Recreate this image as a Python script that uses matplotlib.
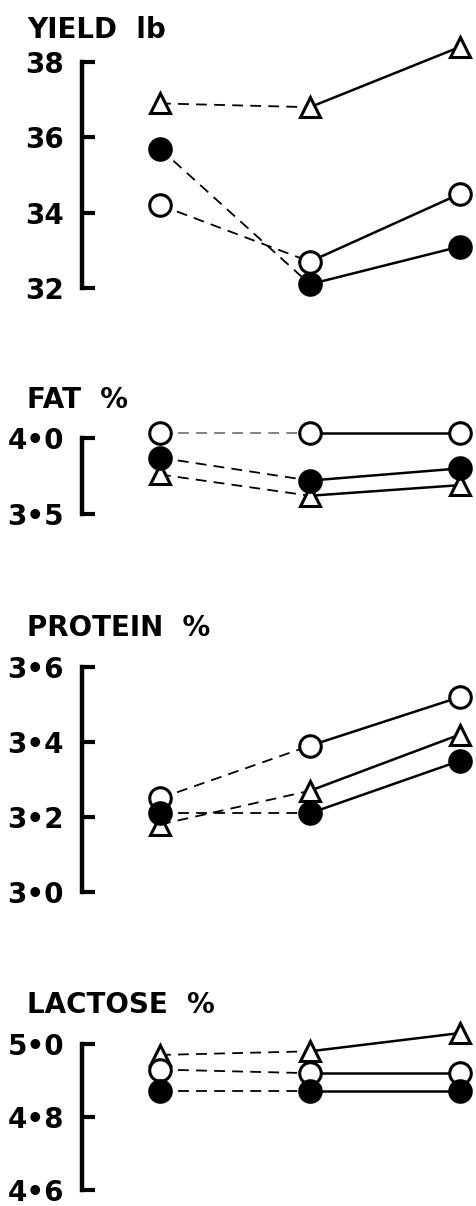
import matplotlib
matplotlib.use("Agg")
import matplotlib.pyplot as plt

# sampling stages (x positions)
stages = [0, 1, 2]

# yield, lb
yield_open = [34.2, 32.7, 34.5]
yield_filled = [35.7, 32.1, 33.1]
yield_tri = [36.9, 36.8, 38.4]

# fat %
fat_open = [4.03, 4.03, 4.03]
fat_filled = [3.87, 3.72, 3.80]
fat_tri = [3.76, 3.62, 3.69]

# protein %
protein_open = [3.25, 3.39, 3.52]
protein_filled = [3.21, 3.21, 3.35]
protein_tri = [3.18, 3.27, 3.42]

# lactose %
lactose_open = [4.93, 4.92, 4.92]
lactose_filled = [4.87, 4.87, 4.87]
lactose_tri = [4.97, 4.98, 5.03]

panels = [
    ("YIELD  lb", (32, 38), [32, 34, 36, 38], ["32", "34", "36", "38"],
     yield_open, yield_filled, yield_tri),
    ("FAT  %", (3.5, 4.0), [3.5, 4.0], ["3•5", "4•0"],
     fat_open, fat_filled, fat_tri),
    ("PROTEIN  %", (3.0, 3.6), [3.0, 3.2, 3.4, 3.6], ["3•0", "3•2", "3•4", "3•6"],
     protein_open, protein_filled, protein_tri),
    ("LACTOSE  %", (4.6, 5.0), [4.6, 4.8, 5.0], ["4•6", "4•8", "5•0"],
     lactose_open, lactose_filled, lactose_tri),
]

W, H = 476, 1206
fig = plt.figure(figsize=(W / 100, H / 100), dpi=100)

# pixel rows of (top of range, bottom of range) and title baseline for each panel
rows = [(62, 288, 38), (438, 514, 408), (667, 892, 636), (1044, 1190, 1013)]
left_px = 82
x_lo, x_hi = -0.52, 2.107

for (title, ylim, ticks, labels, s_open, s_fill, s_tri), (top, bot, ty) in zip(panels, rows):
    ax = fig.add_axes([left_px / W, 1 - bot / H, (W - left_px) / W, (bot - top) / H])
    ax.set_xlim(x_lo, x_hi)
    ax.set_ylim(*ylim)
    for s in ["top", "right", "bottom"]:
        ax.spines[s].set_visible(False)
    ax.spines["left"].set_linewidth(3.2)
    ax.set_xticks([])
    ax.set_yticks(ticks)
    ax.set_yticklabels(labels, fontsize=20, fontweight="bold", family="DejaVu Sans",
                       va="center_baseline")
    ax.tick_params(axis="y", direction="in", length=9, width=3, pad=13)
    ax.patch.set_alpha(0)

    dash_open = "#777777" if title.startswith("FAT") else "black"
    for vals, dcol in [(s_tri, "black"), (s_open, dash_open), (s_fill, "black")]:
        ax.plot(stages[:2], vals[:2], ls=(0, (6, 4)), color=dcol, lw=1.3, clip_on=False, zorder=2)
        ax.plot(stages[1:], vals[1:], ls="-", color="black", lw=1.8, clip_on=False, zorder=2)
    ax.plot(stages, s_tri, ls="none", marker="^", ms=14, mfc="white", mec="black", mew=2.2,
            clip_on=False, zorder=3)
    ax.plot(stages, s_open, ls="none", marker="o", ms=15.5, mfc="white", mec="black", mew=2.2,
            clip_on=False, zorder=4)
    ax.plot(stages, s_fill, ls="none", marker="o", ms=15.5, mfc="black", mec="black", mew=2.2,
            clip_on=False, zorder=5)

    fig.text(27 / W, 1 - ty / H, title, fontsize=20, fontweight="bold", ha="left", va="baseline")

fig.savefig("out.png", dpi=100, facecolor="white")
